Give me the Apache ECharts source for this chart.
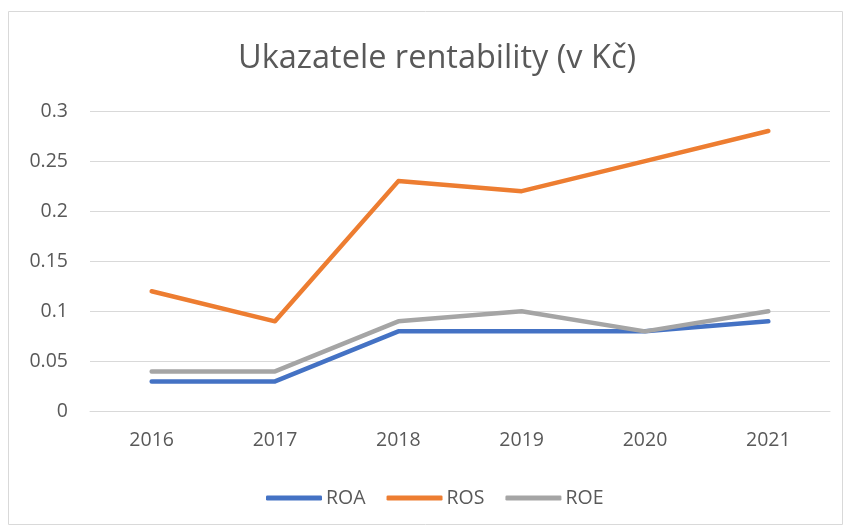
<!DOCTYPE html>
<html>
<head>
<meta charset="utf-8">
<script src="https://cdn.jsdelivr.net/npm/echarts@6/dist/echarts.min.js"></script>
<style>html,body{margin:0;padding:0;background:#fff}#c{width:845px;height:526px}</style>
</head>
<body>
<div id="c"></div>
<script>
var categories = ['2016', '2017', '2018', '2019', '2020', '2021'];
var roa = [0.03, 0.03, 0.08, 0.08, 0.08, 0.09];
var ros = [0.12, 0.09, 0.23, 0.22, 0.25, 0.28];
var roe = [0.04, 0.04, 0.09, 0.10, 0.08, 0.10];
var titleText = 'Ukazatele rentability (v Kč)';

var font = 'Open Sans';
var chart = echarts.init(document.getElementById('c'));
function ser(name, data, color) {
  return {
    name: name, type: 'line', data: data, symbol: 'none',
    lineStyle: { width: 4.5, color: color, cap: 'round', join: 'round' },
    itemStyle: { color: color }
  };
}
chart.setOption({
  animation: false,
  graphic: [{
    type: 'rect', shape: { x: 8.5, y: 11.5, width: 834, height: 513 },
    style: { fill: 'none', stroke: '#D9D9D9', lineWidth: 1 }, silent: true, z: -1
  }],
  title: {
    text: titleText, left: 233, top: 37,
    textStyle: { fontFamily: font, fontSize: 32.5, fontWeight: 'normal', color: '#595959' }
  },
  grid: { left: 90, right: 15, top: 111, bottom: 526 - 411.5 },
  xAxis: {
    type: 'category', data: categories, boundaryGap: true,
    axisLine: { lineStyle: { color: '#D9D9D9', width: 1 } },
    axisTick: { show: false },
    axisLabel: { color: '#595959', fontFamily: font, fontSize: 19.5, margin: 19 }
  },
  yAxis: {
    type: 'value', min: 0, max: 0.3, interval: 0.05,
    axisLine: { show: false }, axisTick: { show: false },
    splitLine: { lineStyle: { color: '#D9D9D9', width: 1 } },
    axisLabel: { color: '#595959', fontFamily: font, fontSize: 19.5, margin: 22 }
  },
  legend: {
    top: 483, left: 261, itemWidth: 56, itemHeight: 5, itemGap: 21,
    icon: 'roundRect',
    textStyle: { color: '#595959', fontFamily: font, fontSize: 19.5, padding: [0, 0, 0, -1] },
    data: ['ROA', 'ROS', 'ROE']
  },
  series: [ser('ROA', roa, '#4472C4'), ser('ROS', ros, '#ED7D31'), ser('ROE', roe, '#A5A5A5')]
});
</script>
</body>
</html>
